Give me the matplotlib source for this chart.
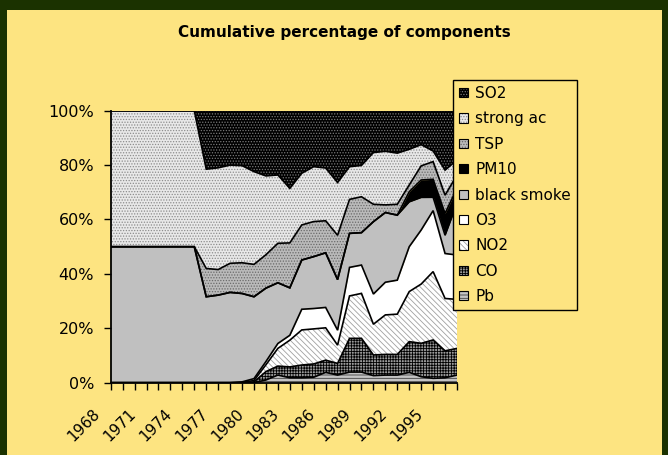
import numpy as np
import matplotlib
matplotlib.use("Agg")
import matplotlib.pyplot as plt
import matplotlib.transforms as mtransforms
from matplotlib.patches import Patch, Rectangle

# data (percent share of each component per year)
years = list(range(1968, 1998))
names = ["Pb", "CO", "NO2", "O3", "black smoke", "PM10", "TSP", "strong ac", "SO2"]

pb = [0, 0, 0, 0, 0, 0, 0, 0, 0, 0, 0, 0, 0, 1.0, 2.8, 1.8, 1.8, 2.0, 3.8, 2.8,
      3.9, 3.9, 2.6, 2.8, 2.8, 3.8, 2.2, 1.6, 1.8, 2.8]
co = [0, 0, 0, 0, 0, 0, 0, 0, 0, 0, 0, 0, 0.3, 3.1, 3.3, 4.0, 4.7, 4.9, 4.5, 4.3,
      12.4, 12.4, 7.6, 7.6, 7.6, 11.3, 12.3, 14.1, 9.9, 9.8]
no2 = [0, 0, 0, 0, 0, 0, 0, 0, 0, 0, 0, 0.1, 0.5, 2.5, 6.5, 9.8, 12.9, 12.9, 11.9, 6.7,
       15.6, 16.5, 11.3, 14.5, 14.8, 18.4, 21.8, 25.1, 19.2, 18.0]
o3 = [0, 0, 0, 0, 0, 0, 0, 0, 0, 0, 0, 0.2, 0.7, 1.2, 1.8, 1.8, 7.6, 7.5, 7.5, 5.5,
      10.5, 10.4, 11.1, 12.0, 12.5, 16.5, 19.9, 22.4, 16.5, 16.3]
black_smoke = [50, 50, 50, 50, 50, 50, 50, 50, 31.6, 32.2, 33.2, 32.5, 30.1, 27.0, 22.3,
               17.4, 18.1, 19.1, 20.1, 18.6, 12.5, 11.9, 26.6, 25.6, 23.9, 16.5, 12.0,
               4.9, 6.7, 19.0]
pm10 = [0, 0, 0, 0, 0, 0, 0, 0, 0, 0, 0, 0, 0, 0, 0, 0, 0, 0, 0, 0,
        0, 0, 0, 0, 0, 3.7, 6.4, 6.6, 8.0, 5.5]
tsp = [0, 0, 0, 0, 0, 0, 0, 0, 10.4, 9.4, 10.7, 11.3, 11.9, 12.3, 14.5, 16.5, 12.9,
       12.9, 11.8, 16.3, 12.5, 13.2, 6.4, 2.8, 4.0, 2.5, 5.2, 6.5, 6.7, 4.9]
strong_ac = [50, 50, 50, 50, 50, 50, 50, 50, 36.5, 37.4, 36.1, 35.7, 34.1, 29.0, 25.1,
             20.0, 19.0, 20.2, 19.4, 19.4, 12.0, 11.5, 19.0, 19.7, 18.8, 13.1, 7.8,
             3.9, 9.2, 5.5]
so2 = [0, 0, 0, 0, 0, 0, 0, 0, 21.5, 21.0, 20.0, 20.2, 22.4, 24.0, 23.6, 28.5, 23.0,
       20.6, 21.1, 26.4, 20.6, 20.1, 15.4, 14.9, 15.6, 14.2, 12.5, 14.8, 21.8, 18.1]

# fill, hatch colour, hatch pattern for each layer (bottom to top)
styles = [
    ("#c4c4c4", "#404040", "-----"),
    ("#9a9a9a", "#000000", "++++++"),
    ("#ffffff", "#a0a0a0", "\\\\\\\\\\\\"),
    ("#ffffff", "#ffffff", None),
    ("#c0c0c0", "#c0c0c0", None),
    ("#000000", "#000000", None),
    ("#bababa", "#6a6a6a", "......"),
    ("#e8e8e8", "#8c8c8c", "......"),
    ("#000000", "#7a7a7a", "......"),
]

yellow = "#fde481"
green = "#1b3200"
W, H = 668, 455

plt.rcParams["font.family"] = ["DejaVu Sans"]
plt.rcParams["hatch.linewidth"] = 0.6

fig = plt.figure(figsize=(W / 100, H / 100), dpi=100, facecolor=green)
fig.patches.append(Rectangle((7 / W, 0), (662 - 7) / W, (H - 10) / H,
                             transform=fig.transFigure, facecolor=yellow,
                             edgecolor="none", zorder=-10))

ax = fig.add_axes([110.7 / W, (H - 382.7) / H, (457 - 110.7) / W, 272 / H])
ax.set_facecolor(yellow)

x = np.arange(len(years))
data = np.array([pb, co, no2, o3, black_smoke, pm10, tsp, strong_ac, so2], dtype=float)
data = data / data.sum(axis=0) * 100
cum = np.vstack([np.zeros(len(x)), np.cumsum(data, axis=0)])

for k, (fc, hc, hatch) in enumerate(styles):
    plt.rcParams["hatch.color"] = hc
    ax.fill_between(x, cum[k], cum[k + 1], facecolor=fc, edgecolor=hc,
                    hatch=hatch, linewidth=0, zorder=1)
for k in range(1, len(cum)):
    ax.plot(x, cum[k], color="black", lw=1.2, zorder=2, solid_joinstyle="miter")

ax.set_xlim(0, len(years) - 1)
ax.set_ylim(0, 100)
ax.set_yticks(range(0, 101, 20))
ax.set_yticklabels([f"{v}%" for v in range(0, 101, 20)], fontsize=11.5)
ax.set_xticks(x)
ax.set_xticklabels([])
# year labels every third category, rotated like the original
lab_tr = mtransforms.offset_copy(ax.get_xaxis_transform(), fig=fig,
                                 x=-13, y=-29, units="dots")
for i in range(0, len(years), 3):
    ax.text(x[i], 0, str(years[i]), transform=lab_tr, rotation=45,
            ha="right", va="center", rotation_mode="anchor", fontsize=11,
            clip_on=False)
ax.tick_params(axis="x", direction="out", length=5, width=1)
ax.tick_params(axis="y", direction="out", length=5, width=1, pad=7)
for side in ["top", "right"]:
    ax.spines[side].set_visible(False)
for side in ["left", "bottom"]:
    ax.spines[side].set_linewidth(1.3)
    ax.spines[side].set_zorder(3)

fig.text(344 / W, 1 - 33 / H, "Cumulative percentage of components",
         ha="center", va="center", fontsize=11, fontweight="bold")

handles = []
for fc, hc, hatch in styles[::-1]:
    plt.rcParams["hatch.color"] = hc
    handles.append((Patch(facecolor=fc, edgecolor=hc, hatch=hatch, linewidth=0),
                    Patch(fill=False, edgecolor="black", linewidth=0.8)))
leg = fig.legend(handles, names[::-1], loc="upper left",
                 bbox_to_anchor=(453 / W, 1 - 80 / H), borderaxespad=0,
                 fontsize=11, handlelength=0.55, handleheight=0.55,
                 handletextpad=0.5, labelspacing=0.68, borderpad=0.4,
                 fancybox=False, framealpha=1, facecolor=yellow, edgecolor="black")
leg.get_frame().set_linewidth(1)

fig.savefig("out.png", dpi=100, facecolor=green)
